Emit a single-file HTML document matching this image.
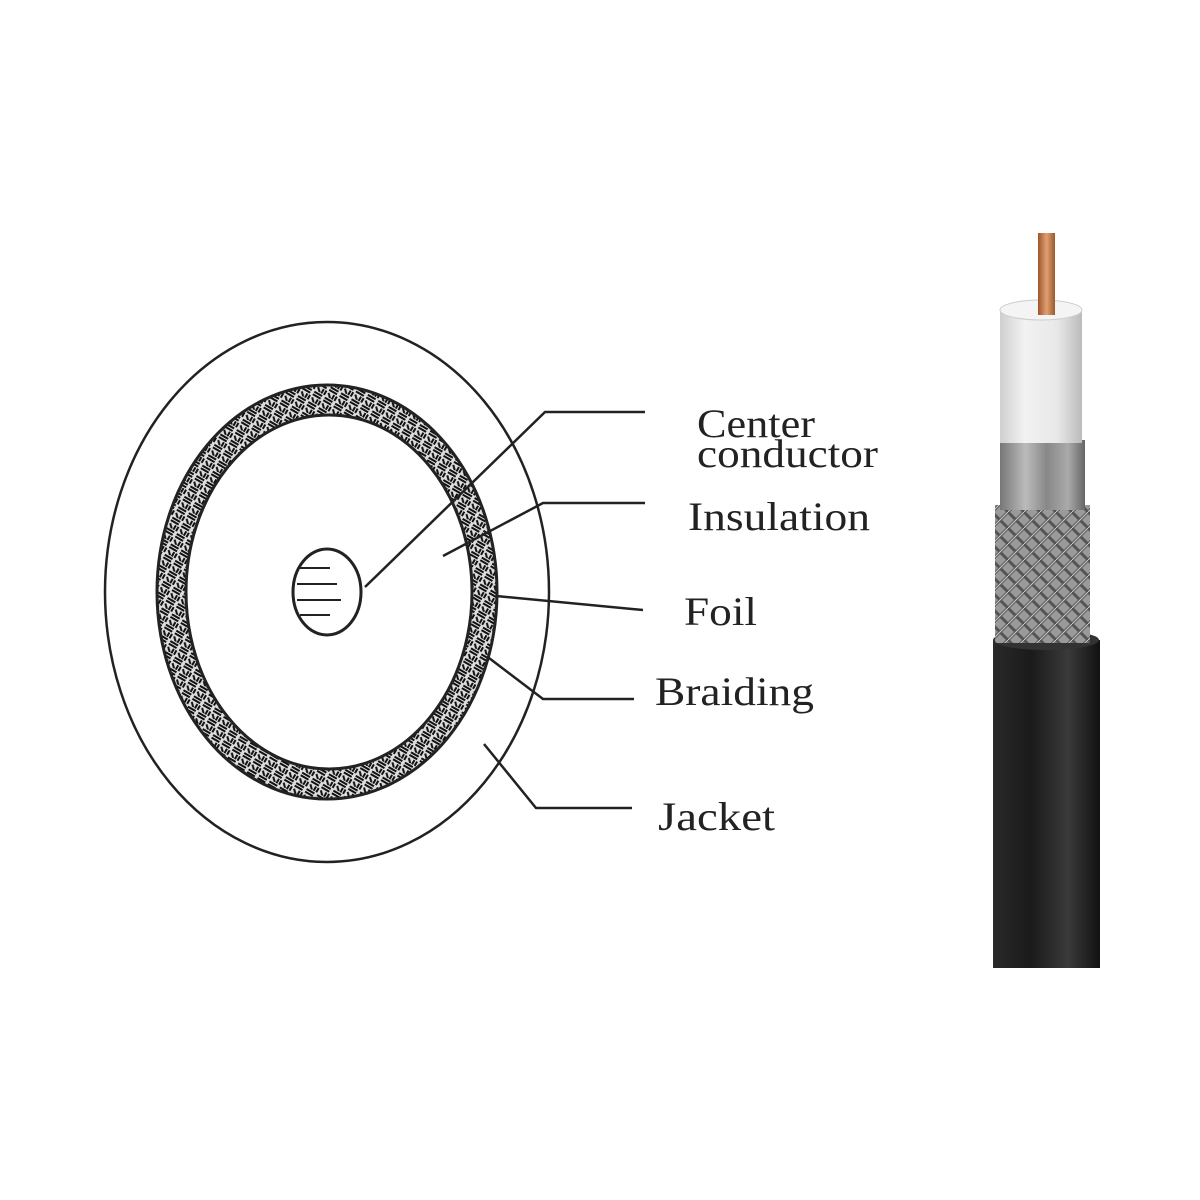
<!DOCTYPE html>
<html><head><meta charset="utf-8"><style>
html,body{margin:0;padding:0;background:#fff;}
svg{display:block}
text{font-family:"Liberation Serif",serif;fill:#222;font-size:40px}
</style></head><body>
<svg width="1200" height="1200" viewBox="0 0 1200 1200" xmlns="http://www.w3.org/2000/svg">
<defs>
<pattern id="br" width="12" height="12" patternUnits="userSpaceOnUse" patternTransform="rotate(30)">
<rect width="12" height="12" fill="#ddd"/>
<path d="M0 2h9M0 5h9M7 7v5M10 7v5M1 8l4 4" stroke="#111" stroke-width="2"/>
</pattern>
<linearGradient id="jk" x1="0" x2="1">
<stop offset="0" stop-color="#2a2a2a"/><stop offset="0.35" stop-color="#1a1a1a"/><stop offset="0.7" stop-color="#3a3a3a"/><stop offset="1" stop-color="#111"/>
</linearGradient>
<linearGradient id="wh" x1="0" x2="1">
<stop offset="0" stop-color="#cfcfcf"/><stop offset="0.3" stop-color="#f2f2f2"/><stop offset="0.7" stop-color="#e8e8e8"/><stop offset="1" stop-color="#bbb"/>
</linearGradient>
<linearGradient id="fl" x1="0" x2="1">
<stop offset="0" stop-color="#777"/><stop offset="0.3" stop-color="#bbb"/><stop offset="0.55" stop-color="#888"/><stop offset="0.8" stop-color="#aaa"/><stop offset="1" stop-color="#666"/>
</linearGradient>
<linearGradient id="cu" x1="0" x2="1">
<stop offset="0" stop-color="#a0522d"/><stop offset="0.5" stop-color="#e0a070"/><stop offset="1" stop-color="#9a5a30"/>
</linearGradient>
<pattern id="bw" width="16" height="16" patternUnits="userSpaceOnUse">
<rect width="16" height="16" fill="#9a9a9a"/>
<path d="M0 16L16 0M0 0L16 16" stroke="#555" stroke-width="3"/>
<path d="M0 16L16 0" stroke="#ccc" stroke-width="1"/>
</pattern>
</defs>

<ellipse cx="327" cy="592" rx="222" ry="270" fill="none" stroke="#222" stroke-width="2.5"/>
<path fill-rule="evenodd" fill="url(#br)" stroke="#222" stroke-width="3"
 d="M157 592a170 207 0 1 0 340 0a170 207 0 1 0 -340 0Z M186 592a143 177 0 1 0 286 0a143 177 0 1 0 -286 0Z"/>
<ellipse cx="327" cy="592" rx="34" ry="43" fill="#fff" stroke="#222" stroke-width="3"/>
<path d="M300 568h30M297 584h40M297 600h44M300 615h30" stroke="#222" stroke-width="2"/>

<g fill="none" stroke="#222" stroke-width="2.5">
<polyline points="365,587 545,412 645,412"/>
<polyline points="443,556 543,503 645,503"/>
<path d="M496,596 Q560,602 643,610"/>
<polyline points="489,658 543,699 634,699"/>
<polyline points="484,744 536,808 632,808"/>
</g>

<text x="697" y="437" textLength="118" lengthAdjust="spacingAndGlyphs">Center</text>
<text x="697" y="467" textLength="181" lengthAdjust="spacingAndGlyphs">conductor</text>
<text x="688" y="530" textLength="182" lengthAdjust="spacingAndGlyphs">Insulation</text>
<text x="684" y="625" textLength="73" lengthAdjust="spacingAndGlyphs">Foil</text>
<text x="655" y="705" textLength="159" lengthAdjust="spacingAndGlyphs">Braiding</text>
<text x="658" y="830" textLength="117" lengthAdjust="spacingAndGlyphs">Jacket</text>

<rect x="993" y="640" width="107" height="328" fill="url(#jk)"/>
<ellipse cx="1046" cy="640" rx="53" ry="10" fill="#333"/>
<rect x="995" y="505" width="95" height="138" fill="url(#bw)"/>
<rect x="1000" y="440" width="85" height="70" fill="url(#fl)"/>
<rect x="1000" y="310" width="82" height="133" fill="url(#wh)"/>
<ellipse cx="1041" cy="310" rx="41" ry="10" fill="#f4f4f4" stroke="#ccc"/>
<rect x="1038" y="233" width="17" height="82" fill="url(#cu)"/>
</svg>
</body></html>
